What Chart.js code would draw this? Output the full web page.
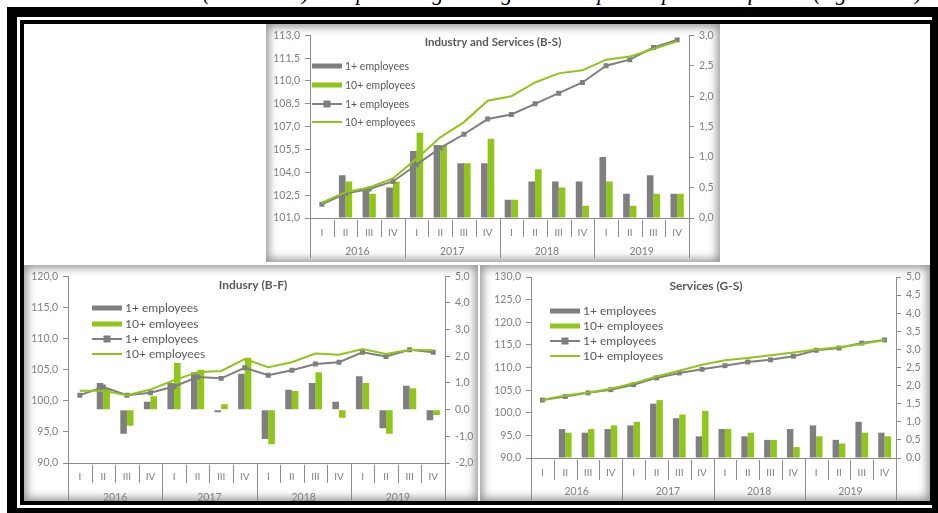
<!DOCTYPE html>
<html>
<head>
<meta charset="utf-8">
<script src="https://cdn.jsdelivr.net/npm/chart.js@4.4.1/dist/chart.umd.min.js"></script>
<style>
  body { margin: 0; width: 938px; height: 513px; background: #fff; overflow: hidden; position: relative; }
  .caption { position: absolute; right: 16px; top: -18px; white-space: nowrap; font: italic 22px "Liberation Serif", serif; line-height: 22px; color: #000; }
  .outer { position: absolute; left: 7px; top: 7px; width: 931px; height: 506px; background: #000; }
  .gap { position: absolute; left: 10px; top: 10px; right: 6px; bottom: 5px; background: #fff; }
  .inner { position: absolute; left: 3px; top: 3px; right: 0; bottom: 3px; background: #000; }
  .sheet { position: absolute; left: 4px; top: 4px; right: 2px; bottom: 4px; background: #fff; }
  .panel { position: absolute; background: #fff; box-shadow: inset 0 0 8px 3px rgba(0,0,0,0.42); }
  .panel canvas { position: absolute; left: 0; top: 0; }
</style>
</head>
<body>
<div class="caption">Labour cost index (2016=100) as a percentage change with respect to previous quarter (right scale)</div>
<div class="outer"><div class="gap"><div class="inner"><div class="sheet"></div></div></div></div>

<div class="panel" style="left:266px;top:24px;width:454px;height:238px"><canvas id="bs" width="454" height="238"></canvas></div>
<div class="panel" style="left:24px;top:265px;width:454px;height:236px"><canvas id="bf" width="454" height="236"></canvas></div>
<div class="panel" style="left:480px;top:265px;width:450px;height:236px"><canvas id="gs" width="450" height="236"></canvas></div>

<script>
// Quarters and years on the category axis
const quarters = ['I','II','III','IV','I','II','III','IV','I','II','III','IV','I','II','III','IV'];
const years = ['2016', '2017', '2018', '2019'];

// Industry and Services (B-S): index (left) and % change on previous quarter (right)
const bsIndexAll  = [101.9, 102.6, 102.9, 103.4, 104.5, 105.6, 106.5, 107.5, 107.8, 108.5, 109.2, 109.9, 111.0, 111.4, 112.2, 112.7];
const bsIndexTen  = [102.0, 102.7, 103.0, 103.6, 104.9, 106.3, 107.3, 108.7, 109.0, 109.9, 110.5, 110.7, 111.4, 111.6, 112.1, 112.6];
const bsChangeAll = [null, 0.7, 0.45, 0.5, 1.1, 1.2, 0.9, 0.9, 0.3, 0.6, 0.6, 0.6, 1.0, 0.4, 0.7, 0.4];
const bsChangeTen = [null, 0.6, 0.4, 0.6, 1.4, 1.2, 0.9, 1.3, 0.3, 0.8, 0.5, 0.2, 0.6, 0.2, 0.4, 0.4];

// Industry (B-F)
const bfIndexAll  = [100.9, 102.2, 100.9, 101.3, 102.3, 103.8, 103.6, 105.3, 104.1, 104.9, 105.9, 106.2, 107.8, 107.1, 108.2, 107.8];
const bfIndexTen  = [101.6, 101.6, 100.9, 101.8, 103.3, 104.6, 104.8, 106.7, 105.4, 106.2, 107.6, 107.4, 108.3, 107.5, 108.2, 108.1];
const bfChangeAll = [null, 1.0, -0.9, 0.3, 1.0, 1.4, -0.1, 1.35, -1.1, 0.75, 1.0, 0.3, 1.25, -0.7, 0.9, -0.4];
const bfChangeTen = [null, 0.8, -0.6, 0.5, 1.75, 1.5, 0.2, 1.95, -1.3, 0.7, 1.4, -0.3, 1.0, -0.9, 0.8, -0.2];

// Services (G-S)
const gsIndexAll  = [102.8, 103.6, 104.4, 105.1, 106.2, 107.7, 108.8, 109.6, 110.4, 111.2, 111.7, 112.5, 113.8, 114.3, 115.4, 116.1];
const gsIndexTen  = [102.8, 103.8, 104.5, 105.3, 106.5, 108.0, 109.3, 110.6, 111.6, 112.1, 112.7, 113.3, 114.0, 114.5, 115.2, 116.1];
const gsChangeAll = [null, 0.8, 0.7, 0.8, 0.9, 1.5, 1.1, 0.6, 0.8, 0.6, 0.5, 0.8, 0.9, 0.5, 1.0, 0.7];
const gsChangeTen = [null, 0.7, 0.8, 0.9, 1.0, 1.6, 1.2, 1.3, 0.8, 0.7, 0.5, 0.3, 0.6, 0.4, 0.7, 0.6];

const AXIS = '#8c8c8c', TICK = '#7f7f7f', TEXT = '#595959';
const GREY = '#7f7f7f', GREEN = '#8fc619';
const FONT = 'Lato, "Open Sans", sans-serif';

// comma decimal like the source spreadsheet
function fmt(v) {
    return v.toFixed(1).replace('.', ',');
}

// Draws the two-level category axis, the title and the legend inside the plot
const decor = {
    id: 'decor',
    afterDraw(chart, args, o) {
        const ctx = chart.ctx;
        const ca = chart.chartArea;
        const x = chart.scales.x;
        const n = chart.data.labels.length;
        const w = x.width / n;
        ctx.save();

        // quarter and year separators
        ctx.strokeStyle = AXIS;
        ctx.lineWidth = 1;
        for (let k = 0; k <= n; k++) {
            const px = Math.round(x.left + k * w) + 0.5;
            const edge = k % 4 === 0;
            ctx.beginPath();
            ctx.moveTo(px, ca.bottom + (edge ? 0 : 2));
            ctx.lineTo(px, ca.bottom + (edge ? o.yearLine : o.qLine));
            ctx.stroke();
        }

        // year labels
        ctx.fillStyle = TICK;
        ctx.font = '10.5px ' + FONT;
        ctx.textAlign = 'center';
        ctx.textBaseline = 'middle';
        years.forEach((yr, i) => {
            ctx.fillText(yr, x.left + (i * 4 + 2) * w, ca.bottom + o.yearY);
        });

        // title
        ctx.fillStyle = TEXT;
        ctx.font = 'bold ' + o.titleSize + 'px ' + FONT;
        ctx.fillText(o.title, o.titleX, o.titleY);

        // legend
        ctx.textAlign = 'left';
        ctx.font = o.legendSize + 'px ' + FONT;
        chart.data.datasets.forEach((ds, i) => {
            const lx = ca.left + o.legendX;
            const ly = Math.round(ca.top + o.legendY + i * o.legendGap);
            if (ds.type === 'bar') {
                ctx.fillStyle = ds.backgroundColor;
                ctx.fillRect(lx, ly - 2.5, 30, 5);
            } else {
                ctx.strokeStyle = ds.borderColor;
                ctx.lineWidth = 2;
                ctx.beginPath();
                ctx.moveTo(lx, ly);
                ctx.lineTo(lx + 30, ly);
                ctx.stroke();
                if (ds.pointRadius > 0) {
                    ctx.fillStyle = ds.borderColor;
                    ctx.fillRect(lx + 11.5, ly - 3.5, 7, 7);
                }
            }
            ctx.fillStyle = TEXT;
            ctx.fillText(o.names[i], lx + 33, ly + 0.5);
        });
        ctx.restore();
    }
};

function makeChart(id, c) {
    const tickFont = { family: FONT, size: 10.5 };
    return new Chart(document.getElementById(id), {
        data: {
            labels: quarters,
            datasets: [{
                type: 'bar',
                label: c.names[0],
                data: c.changeAll,
                yAxisID: 'yR',
                backgroundColor: GREY,
                categoryPercentage: 0.56,
                barPercentage: 1,
                order: 2
            }, {
                type: 'bar',
                label: c.names[1],
                data: c.changeTen,
                yAxisID: 'yR',
                backgroundColor: GREEN,
                categoryPercentage: 0.56,
                barPercentage: 1,
                order: 2
            }, {
                type: 'line',
                label: c.names[2],
                data: c.indexAll,
                yAxisID: 'y',
                borderColor: GREY,
                backgroundColor: GREY,
                borderWidth: 2,
                pointStyle: 'rect',
                pointRadius: 3.5,
                pointBorderWidth: 0,
                tension: 0,
                order: 1
            }, {
                type: 'line',
                label: c.names[3],
                data: c.indexTen,
                yAxisID: 'y',
                borderColor: GREEN,
                borderWidth: 2,
                pointRadius: 0,
                tension: 0,
                order: 0
            }]
        },
        options: {
            responsive: false,
            animation: false,
            events: [],
            layout: { padding: { top: c.top, left: 0, right: 0, bottom: 0 } },
            plugins: {
                legend: { display: false },
                tooltip: { enabled: false },
                decor: c.decor
            },
            scales: {
                x: {
                    type: 'category',
                    offset: true,
                    afterFit: s => { s.height = c.xHeight; },
                    grid: { display: false, drawTicks: false },
                    border: { display: true, color: AXIS },
                    ticks: { autoSkip: false, maxRotation: 0, padding: c.qPad, color: TICK, font: { family: FONT, size: 10 } }
                },
                y: {
                    type: 'linear',
                    position: 'left',
                    min: c.yMin,
                    max: c.yMax,
                    afterFit: s => { s.width = c.left; },
                    grid: { drawOnChartArea: false, tickLength: 5, color: AXIS },
                    border: { color: AXIS },
                    ticks: { stepSize: c.yStep, padding: 5, color: TICK, font: tickFont, callback: v => fmt(v) }
                },
                yR: {
                    type: 'linear',
                    position: 'right',
                    min: c.rMin,
                    max: c.rMax,
                    afterFit: s => { s.width = c.right; },
                    grid: { drawOnChartArea: false, tickLength: 5, color: AXIS },
                    border: { color: AXIS },
                    ticks: { stepSize: c.rStep, padding: 5, color: TICK, font: tickFont, callback: v => fmt(v) }
                }
            }
        },
        plugins: [decor]
    });
}

const bsChart = makeChart('bs', {
    indexAll: bsIndexAll, indexTen: bsIndexTen, changeAll: bsChangeAll, changeTen: bsChangeTen,
    names: ['1+ employees', '10+ employees', '1+ employees', '10+ employees'],
    yMin: 101, yMax: 113, yStep: 1.5, rMin: 0, rMax: 3, rStep: 0.25,
    top: 7, xHeight: 44, left: 44, right: 31, qPad: 9,
    decor: {
        title: 'Industry and Services (B-S)', titleX: 227, titleY: 18, titleSize: 11.5,
        names: ['1+ employees', '10+ employees', '1+ employees', '10+ employees'],
        legendX: 2, legendY: 31, legendGap: 18.6, legendSize: 10.5,
        qLine: 19, yearLine: 40, yearY: 34
    }
});

const bfChart = makeChart('bf', {
    indexAll: bfIndexAll, indexTen: bfIndexTen, changeAll: bfChangeAll, changeTen: bfChangeTen,
    names: ['1+ employees', '10+ emloyees', '1+ employees', '10+ employees'],
    yMin: 90, yMax: 120, yStep: 5, rMin: -2, rMax: 5, rStep: 1,
    top: 8, xHeight: 38, left: 44, right: 33, qPad: 8,
    decor: {
        title: 'Indusry (B-F)', titleX: 229, titleY: 20, titleSize: 12,
        names: ['1+ employees', '10+ emloyees', '1+ employees', '10+ employees'],
        legendX: 24, legendY: 32, legendGap: 15.3, legendSize: 12,
        qLine: 20, yearLine: 39, yearY: 35
    }
});

const gsChart = makeChart('gs', {
    indexAll: gsIndexAll, indexTen: gsIndexTen, changeAll: gsChangeAll, changeTen: gsChangeTen,
    names: ['1+ employees', '10+ employees', '1+ employees', '10+ employees'],
    yMin: 90, yMax: 130, yStep: 5, rMin: 0, rMax: 5, rStep: 0.5,
    top: 12, xHeight: 43, left: 51, right: 34, qPad: 8.5,
    decor: {
        title: 'Services (G-S)', titleX: 226, titleY: 21, titleSize: 12,
        names: ['1+ employees', '10+ employees', '1+ employees', '10+ employees'],
        legendX: 19, legendY: 34, legendGap: 15, legendSize: 12,
        qLine: 22, yearLine: 43, yearY: 34
    }
});
</script>
</body>
</html>
